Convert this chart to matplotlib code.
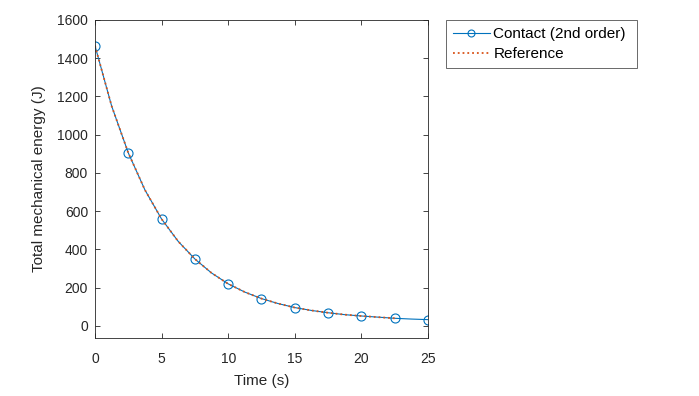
import matplotlib.pyplot as plt

plt.rcParams['font.family'] = ['Liberation Sans', 'DejaVu Sans']

# values
t_line = [0, 1.25, 2.5, 3.75, 5, 6.25, 7.5, 8.75, 10, 11.25, 12.5, 13.75, 15,
          16.25, 17.5, 18.75, 20, 21.25, 22.5, 23.75, 25]
e_contact = [1465, 1150, 905, 711, 559, 442, 350, 277, 220, 177, 143, 117, 96,
             81, 69, 59, 52, 46, 40, 36, 33]
t_marks = [0, 2.5, 5, 7.5, 10, 12.5, 15, 17.5, 20, 22.5, 25]
e_marks = [1465, 905, 559, 350, 220, 143, 96, 69, 52, 40, 33]
t_ref = t_line[:19]
e_ref = e_contact[:19]

fig = plt.figure(figsize=(6.99, 3.96), dpi=100)
ax = fig.add_axes([0.1359, 0.1465, 0.4764, 0.803])

blue = '#0072BD'
orange = '#D95319'
ax.plot(t_line, e_contact, color=blue, lw=0.8)
ax.plot(t_marks, e_marks, 'o', color=blue, mfc='none', ms=6.5, mew=0.8)
ax.plot(t_ref, e_ref, ':', color=orange, lw=1.3)

# legend proxies
h1, = ax.plot([], [], '-o', color=blue, mfc='none', ms=5, mew=0.8, lw=0.8,
              label='Contact (2nd order)')
h2, = ax.plot([], [], ':', color=orange, lw=1.3, label='Reference')
leg = fig.legend(handles=[h1, h2], loc='upper left',
                 bbox_to_anchor=(0.638, 0.8495, 0.273, 0.1), mode='expand',
                 frameon=True, fancybox=False, fontsize=11, borderpad=0.45,
                 labelspacing=0.42, handlelength=2.4, handletextpad=0.25,
                 borderaxespad=0)
leg.get_frame().set_edgecolor('#262626')
leg.get_frame().set_linewidth(0.6)

ax.set_xlim(0, 25)
ax.set_ylim(-63, 1600)
ax.set_xticks([0, 5, 10, 15, 20, 25])
ax.set_yticks(range(0, 1601, 200))
ax.tick_params(direction='in', top=True, right=True, labelsize=10,
               length=3.5, width=0.6, colors='#262626')
ax.tick_params(axis='x', pad=10)
ax.tick_params(axis='y', pad=5)
for s in ax.spines.values():
    s.set_color('#262626')
    s.set_linewidth(0.6)
ax.set_xlabel('Time (s)', fontsize=11, color='#262626', labelpad=6)
ax.set_ylabel('Total mechanical energy (J)', fontsize=11, color='#262626', labelpad=8)

fig.savefig('out.png', dpi=100)
